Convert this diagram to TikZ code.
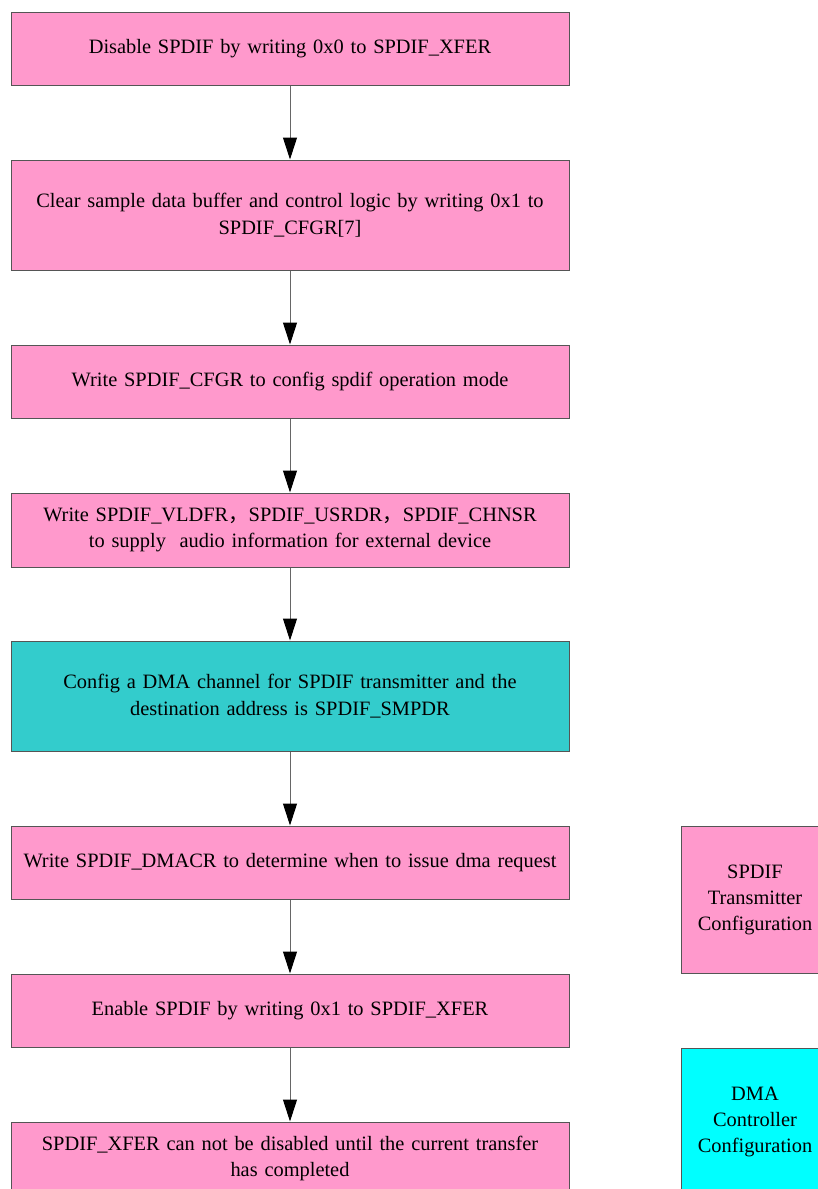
\documentclass[tikz,border=0pt]{standalone}
\usepackage{fontspec}
\setmainfont{Liberation Serif}
\newfontfamily\cjk{Noto Sans CJK SC}
\usetikzlibrary{arrows.meta}
\definecolor{pinkbox}{HTML}{FF99CC}
\definecolor{tealbox}{HTML}{33CCCC}
\definecolor{cyanbox}{HTML}{00FFFF}
\definecolor{edgegray}{HTML}{555555}
\definecolor{linegray}{HTML}{666666}
\begin{document}
\begin{tikzpicture}[x=1pt,y=-1pt,
  stepbox/.style={draw=edgegray,line width=1pt,minimum width=558pt,align=center,inner sep=0pt,
    font=\fontsize{20.4}{26.5}\selectfont,text width=556pt},
  sidebox/.style={draw=edgegray,line width=1pt,minimum width=148pt,minimum height=147pt,align=center,inner sep=0pt,
    font=\fontsize{20.4}{26}\selectfont},
  flow/.style={draw=linegray,line width=1pt,-{Triangle[width=14pt,length=22pt,color=black,fill=black]}}]
\useasboundingbox (0,0) rectangle (818,1189);
\clip (0,0) rectangle (818,1189);
\fill[white] (0,0) rectangle (818,1189);
\node[stepbox,fill=pinkbox,minimum height=73pt] (b1) at (290,48.5) {Disable SPDIF by writing 0x0 to SPDIF\_XFER};
\node[stepbox,fill=pinkbox,minimum height=110pt] (b2) at (290,215) {Clear sample data buffer and control logic by writing 0x1 to\\SPDIF\_CFGR[7]};
\node[stepbox,fill=pinkbox,minimum height=73pt] (b3) at (290,381.5) {Write SPDIF\_CFGR to config spdif operation mode};
\node[stepbox,fill=pinkbox,minimum height=74pt] (b4) at (290,530) {Write SPDIF\_VLDFR{\cjk，}SPDIF\_USRDR{\cjk，}SPDIF\_CHNSR\\to supply\ \ audio information for external device};
\node[stepbox,fill=tealbox,minimum height=110pt] (b5) at (290,696) {Config a DMA channel for SPDIF transmitter and the\\destination address is SPDIF\_SMPDR};
\node[stepbox,fill=pinkbox,minimum height=73pt] (b6) at (290,862.5) {Write SPDIF\_DMACR to determine when to issue dma request};
\node[stepbox,fill=pinkbox,minimum height=73pt] (b7) at (290,1010.5) {Enable SPDIF by writing 0x1 to SPDIF\_XFER};
\node[stepbox,fill=pinkbox,minimum height=73pt] (b8) at (290,1158.5) {SPDIF\_XFER can not be disabled until the current transfer\\has completed};
\node[sidebox,fill=pinkbox] (s1) at (755,899.5) {SPDIF\\Transmitter\\Configuration};
\node[sidebox,fill=cyanbox] (s2) at (755,1121.5) {DMA\\Controller\\Configuration};
\draw[flow] (b1) -- (b2);
\draw[flow] (b2) -- (b3);
\draw[flow] (b3) -- (b4);
\draw[flow] (b4) -- (b5);
\draw[flow] (b5) -- (b6);
\draw[flow] (b6) -- (b7);
\draw[flow] (b7) -- (b8);
\end{tikzpicture}
\end{document}
